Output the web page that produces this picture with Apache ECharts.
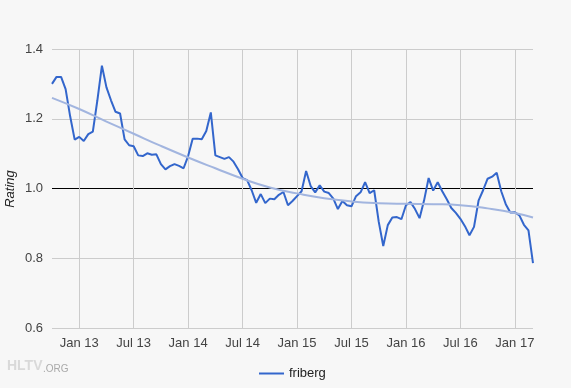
<!DOCTYPE html>
<html>
<head>
<meta charset="utf-8">
<script src="https://cdn.jsdelivr.net/npm/echarts@6/dist/echarts.min.js"></script>
<style>
html,body{margin:0;padding:0;background:#f7f7f7;}
#chart{width:571px;height:388px;}
</style>
</head>
<body>
<div id="chart"></div>
<script>
// Half-month sample dates, Oct 2012 .. Mar 2017
const startYear = 2012, startMonth = 10, endYear = 2017, endMonth = 3;
const categories = [];
for (let y = startYear, m = startMonth; y < endYear || (y === endYear && m <= endMonth); ) {
  const mm = (m < 10 ? '0' : '') + m;
  categories.push(y + '-' + mm + '-01');
  if (!(y === endYear && m === endMonth)) categories.push(y + '-' + mm + '-16');
  m++; if (m > 12) { m = 1; y++; }
}

const seriesName = 'friberg';
const yAxisTitle = 'Rating';
const ratingValues = [
  1.30, 1.32, 1.32, 1.285, 1.207, 1.14, 1.148, 1.136, 1.156, 1.163,
  1.253, 1.352, 1.29, 1.253, 1.22, 1.215, 1.141, 1.124, 1.121, 1.095,
  1.093, 1.101, 1.097, 1.098, 1.07, 1.055, 1.064, 1.07, 1.065, 1.058,
  1.093, 1.143, 1.143, 1.141, 1.165, 1.218, 1.095, 1.09, 1.085, 1.09,
  1.077, 1.055, 1.03, 1.024, 0.995, 0.959, 0.984, 0.958, 0.971, 0.969,
  0.982, 0.99, 0.952, 0.964, 0.978, 0.992, 1.05, 1.007, 0.989, 1.009,
  0.991, 0.987, 0.971, 0.941, 0.964, 0.952, 0.949, 0.978, 0.989, 1.018,
  0.987, 0.995, 0.905, 0.835, 0.895, 0.917, 0.918, 0.912, 0.952, 0.961,
  0.941, 0.915, 0.966, 1.03, 0.994, 1.018, 0.992, 0.969, 0.944, 0.930,
  0.913, 0.892, 0.866, 0.89, 0.965, 0.995, 1.028, 1.034, 1.045, 0.992,
  0.955, 0.931, 0.932, 0.923, 0.896, 0.88, 0.786
];

const trendDates = ['2012-10-01','2013-01-01','2013-04-01','2013-07-01','2013-10-01','2014-01-01',
  '2014-04-01','2014-07-01','2014-10-01','2015-01-01','2015-04-01','2015-07-01','2015-10-01',
  '2016-01-01','2016-04-01','2016-07-01','2016-10-01','2017-01-01','2017-03-01'];
const trendValues = [1.26, 1.228, 1.192, 1.157, 1.122, 1.089, 1.058, 1.028, 1.003, 0.986,
  0.972, 0.963, 0.958, 0.956, 0.955, 0.952, 0.943, 0.930, 0.917];

const yTicks = [0.6, 0.8, 1.0, 1.2, 1.4];
const monthNames = ['Jan','Feb','Mar','Apr','May','Jun','Jul','Aug','Sep','Oct','Nov','Dec'];

function isHalfYear(value) {
  return /-(01|07)-01$/.test(value);
}

const chart = echarts.init(document.getElementById('chart'), null, {renderer: 'canvas'});
const font = "Arial, 'Liberation Sans', sans-serif";
chart.setOption({
  backgroundColor: '#f7f7f7',
  animation: false,
  textStyle: {fontFamily: font},
  grid: {left: 52, right: 38, top: 49, bottom: 60, containLabel: false, outerBoundsMode: 'none'},
  legend: {
    data: [seriesName],
    left: 254, top: 362,
    itemWidth: 25, itemHeight: 14, itemGap: 10,
    icon: 'path://M0,6 L25,6 L25,8 L0,8 Z',
    textStyle: {color: '#222', fontSize: 13, fontFamily: font}
  },
  xAxis: {
    type: 'category',
    data: categories,
    boundaryGap: false,
    axisLine: {show: false},
    axisTick: {show: false},
    axisLabel: {
      interval: function (i, v) { return isHalfYear(v); },
      formatter: function (v) {
        const p = v.split('-');
        return monthNames[parseInt(p[1], 10) - 1] + ' ' + p[0].slice(2);
      },
      color: '#444', fontSize: 13, fontFamily: font, margin: 9
    },
    splitLine: {
      show: true,
      interval: function (i, v) { return isHalfYear(v); },
      lineStyle: {color: '#cccccc', width: 1}
    }
  },
  yAxis: {
    type: 'value',
    min: yTicks[0], max: yTicks[yTicks.length - 1], interval: 0.2,
    axisLine: {show: false},
    axisTick: {show: false},
    axisLabel: {
      formatter: function (v) { return v.toFixed(1); },
      color: '#444', fontSize: 13, fontFamily: font, margin: 9
    },
    splitLine: {
      show: true,
      lineStyle: {color: ['#cccccc', '#cccccc', '#000000', '#cccccc', '#cccccc'], width: 1}
    }
  },
  series: [
    {
      name: seriesName,
      type: 'line',
      data: ratingValues,
      symbol: 'none',
      lineStyle: {color: '#3366cc', width: 2},
      itemStyle: {color: '#3366cc'},
      z: 2
    },
    {
      name: 'trend',
      type: 'line',
      data: trendDates.map(function (d, k) { return [d, trendValues[k]]; }),
      symbol: 'none',
      smooth: true,
      lineStyle: {color: '#a2b5df', width: 2},
      itemStyle: {color: '#a2b5df'},
      z: 3
    }
  ],
  graphic: [
    {type: 'text', x: 10, y: 189, rotation: Math.PI / 2,
     style: {text: yAxisTitle, fill: '#222', font: 'italic 13px ' + font, align: 'center', verticalAlign: 'middle'}},
    {type: 'text', left: 7, top: 359, style: {text: 'HLTV', fill: '#d9d9d9', font: 'bold 14px ' + font}},
    {type: 'text', left: 43, top: 364, style: {text: '.ORG', fill: '#aaaaaa', font: '10px ' + font}}
  ]
});
</script>
</body>
</html>
